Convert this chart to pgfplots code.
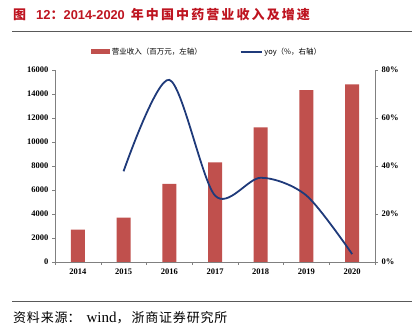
\documentclass[border=0pt]{standalone}
\usepackage{pgfplots}
\pgfplotsset{compat=1.18}
\usepackage{fontspec}
\setmainfont{Liberation Serif}
\newfontfamily\cjk{Noto Sans CJK SC}
\newfontfamily\arialb{Liberation Sans}
\definecolor{barred}{HTML}{C0504D}
\definecolor{lineblue}{HTML}{1F3A7A}
\definecolor{titlered}{HTML}{BE1420}
\definecolor{axgray}{HTML}{808080}
\newcommand{\s}{\hspace{2.1pt}}
\newcommand{\q}{\hspace{0.8pt}}
\begin{document}
\begin{tikzpicture}[x=1pt,y=1pt]
\path[use as bounding box] (0,0) rectangle (417,334);
\node[anchor=west, text=titlered, inner sep=0pt, font=\cjk\bfseries\fontsize{13}{15}\selectfont] at (13,319) {图\hspace{10pt}{\arialb\bfseries 12}：{\arialb\bfseries\fontsize{12.8}{15}\selectfont 2014-2020}\hspace{6pt}年\s 中\s 国\s 中\s 药\s 营\s 业\s 收\s 入\s 及\s 增\s 速};
\draw[black!65, line width=1pt] (12,302) -- (412,302);
\draw[black!65, line width=1pt] (12,32) -- (412,32);
\node[anchor=west, inner sep=0pt, font=\cjk\fontsize{13}{15}\selectfont] at (13,16) {资\q 料\q 来\q 源：\hspace{6pt}{\rmfamily\fontsize{15}{15}\selectfont wind}，\hspace{2pt}浙\q 商\q 证\q 券\q 研\q 究\q 所};
\begin{axis}[at={(55pt,72pt)}, anchor=south west, width=320pt, height=192pt, scale only axis,
  xmin=-0.5, xmax=6.5, ymin=0, ymax=16000, ytick={0,2000,...,16000},
  scaled y ticks=false,
  axis x line*=bottom, axis y line*=left, axis line style={axgray},
  xtick={0,...,6}, xticklabels={2014,2015,2016,2017,2018,2019,2020},
  major x tick style={draw=none}, minor xtick={-0.5,0.5,...,6.5},
  tick align=outside, tick style={axgray}, major tick length=3pt, minor tick length=3pt,
  ticklabel style={font=\bfseries\fontsize{8.5}{10}\selectfont},
  /pgf/number format/1000 sep={}, /pgf/number format/assume math mode=true,
  legend columns=2,
  legend style={at={(0.475,1)}, anchor=south, yshift=10pt, draw=none, fill=none,
    font=\cjk\fontsize{7.5}{9}\selectfont,
    /tikz/every even column/.append style={column sep=36pt}},
  ]
\addplot[ybar, bar width=14pt, fill=barred, draw=none,
  legend image code/.code={\fill[barred] (0pt,-2.5pt) rectangle (19pt,2.5pt);}]
  coordinates {(0,2700)(1,3700)(2,6500)(3,8300)(4,11220)(5,14330)(6,14800)};
\addlegendentry{营业收入（百万元，左轴）}
\addlegendimage{legend image code/.code={\draw[lineblue, line width=1.5pt] (0pt,0pt) -- (21pt,0pt);}}
\addlegendentry{yoy（\%，右轴）}
\end{axis}
\begin{axis}[at={(55pt,72pt)}, anchor=south west, width=320pt, height=192pt, scale only axis,
  xmin=-0.5, xmax=6.5, ymin=0, ymax=80, ytick={0,20,...,80},
  axis x line=none, axis y line*=right, axis line style={axgray},
  tick align=outside, tick style={axgray}, major tick length=3pt,
  yticklabel={\pgfmathprintnumber{\tick}\%},
  ticklabel style={font=\bfseries\fontsize{8.5}{10}\selectfont},
  /pgf/number format/assume math mode=true,
  ]
\addplot[lineblue, line width=1.8pt, smooth] coordinates {(1,37.8)(2,75.9)(3,27.7)(4,35.1)(5,27.7)(6,3.3)};
\end{axis}
\end{tikzpicture}
\end{document}
